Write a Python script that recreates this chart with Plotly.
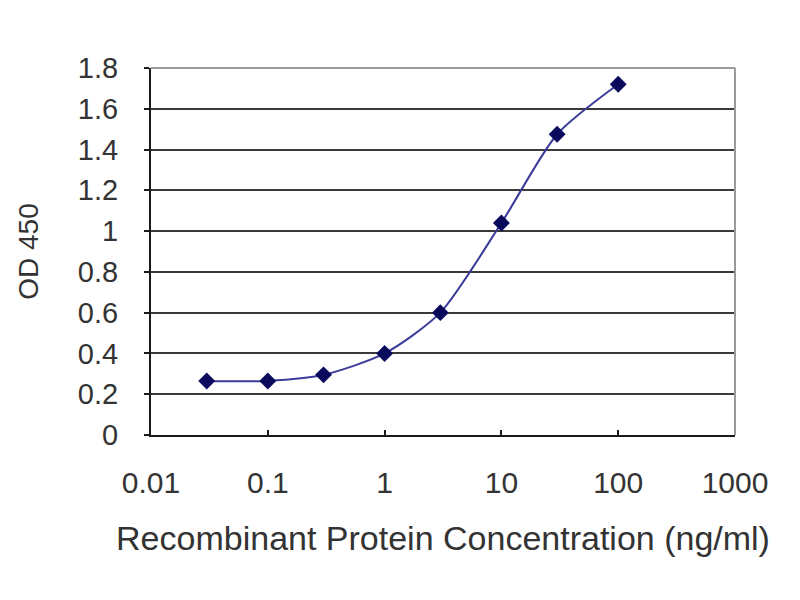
import plotly.graph_objects as go

concentration = [0.03, 0.1, 0.3, 1, 3, 10, 30, 100]
od450 = [0.265, 0.265, 0.295, 0.40, 0.60, 1.04, 1.475, 1.72]
y_ticks = [0, 0.2, 0.4, 0.6, 0.8, 1, 1.2, 1.4, 1.6, 1.8]
y_tick_text = ["0", "0.2", "0.4", "0.6", "0.8", "1", "1.2", "1.4", "1.6", "1.8"]
x_ticks = [0.01, 0.1, 1, 10, 100, 1000]
x_tick_text = ["0.01", "0.1", "1", "10", "100", "1000"]

font = "Liberation Sans, Arial, sans-serif"

fig = go.Figure()
fig.add_trace(go.Scatter(
    x=concentration, y=od450, mode="lines+markers",
    line=dict(color="#3b3b9a", width=2, shape="spline", smoothing=0.7),
    marker=dict(symbol="diamond", size=13, color="#0a0a5c"),
    showlegend=False,
))

fig.update_layout(
    width=800, height=600,
    paper_bgcolor="white", plot_bgcolor="white",
    margin=dict(l=143, r=73, t=60, b=173),
    font=dict(family=font, color="#333333", size=29),
    xaxis=dict(
        type="log", range=[-2, 3],
        tickvals=x_ticks, ticktext=x_tick_text,
        showgrid=False, zeroline=False,
        showline=True, linecolor="#1a1a1a", linewidth=2,
        ticks="inside", ticklen=5, tickwidth=2, tickcolor="#1a1a1a",
        ticklabelstandoff=20,
        tickfont=dict(size=30),
        title=dict(text="Recombinant Protein Concentration (ng/ml)",
                   font=dict(size=34), standoff=28),
    ),
    yaxis=dict(
        range=[0, 1.8],
        tickvals=y_ticks, ticktext=y_tick_text,
        showgrid=True, gridcolor="#3a3a3a", gridwidth=2,
        zeroline=False,
        showline=True, linecolor="#1a1a1a", linewidth=2,
        ticks="outside", ticklen=5, tickwidth=2, tickcolor="#1a1a1a",
        ticklabelstandoff=20,
        tickfont=dict(size=29),
        title=dict(text="OD 450", font=dict(size=28), standoff=31),
    ),
    shapes=[
        dict(type="line", xref="paper", yref="paper", x0=0, x1=1, y0=1, y1=1,
             line=dict(color="#9a9a9a", width=2)),
        dict(type="line", xref="paper", yref="paper", x0=1, x1=1, y0=0, y1=1,
             line=dict(color="#9a9a9a", width=2)),
    ],
)

fig.write_html("out.html")
